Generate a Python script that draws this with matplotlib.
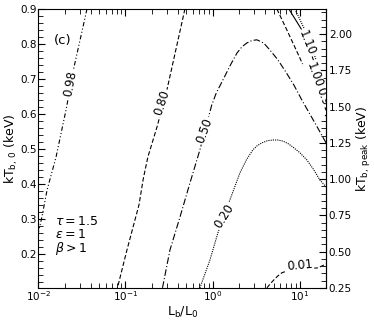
import matplotlib
matplotlib.use('Agg')
import matplotlib.pyplot as plt
from matplotlib.ticker import MultipleLocator, FormatStrFormatter

# contour lines: L_b/L_0 (x) and kT_b,0 in keV (y)
x_098 = [0.0362, 0.0257, 0.0208, 0.0160, 0.0126, 0.0110, 0.0100]
y_098 = [0.900, 0.7345, 0.612, 0.478, 0.383, 0.306, 0.261]

x_080 = [0.481, 0.299, 0.230, 0.181, 0.160, 0.143, 0.104, 0.0809]
y_080 = [0.900, 0.669, 0.563, 0.478, 0.415, 0.341, 0.212, 0.1037]

x_050 = [0.266, 0.324, 0.422, 0.549, 0.715, 0.849, 0.975, 1.10, 1.31, 1.60, 1.90, 2.17,
         2.47, 2.82, 3.22, 3.85, 4.54, 5.60, 6.93, 8.60, 10.57, 14.9, 20.0]
y_050 = [0.104, 0.212, 0.306, 0.403, 0.498, 0.569, 0.625, 0.660, 0.697, 0.740, 0.774, 0.792,
         0.803, 0.810, 0.812, 0.803, 0.783, 0.755, 0.720, 0.682, 0.640, 0.575, 0.518]

x_020 = [0.715, 0.933, 1.150, 1.579, 2.056, 2.45, 2.90, 3.25, 3.68, 4.25, 4.92, 5.60,
         6.40, 7.30, 8.34, 10.0, 12.06, 14.3, 17.0, 20.0]
y_020 = [0.104, 0.184, 0.261, 0.355, 0.432, 0.470, 0.498, 0.510, 0.518, 0.524, 0.526, 0.526,
         0.523, 0.516, 0.506, 0.490, 0.469, 0.443, 0.412, 0.392]

x_001 = [4.20, 4.60, 5.05, 5.60, 6.23, 7.10, 8.12, 11.44, 16.13, 20.0]
y_001 = [0.104, 0.116, 0.127, 0.138, 0.147, 0.152, 0.155, 0.158, 0.161, 0.172]

x_099 = [5.463, 7.30, 10.03, 13.77, 17.0, 20.0]
y_099 = [0.900, 0.834, 0.760, 0.683, 0.632, 0.592]

x_110 = [7.50, 10.57, 13.06, 15.70, 18.41, 20.0]
y_110 = [0.900, 0.840, 0.783, 0.726, 0.675, 0.649]

x_100 = [8.785, 11.14, 13.77, 16.56, 20.0]
y_100 = [0.900, 0.846, 0.789, 0.732, 0.675]

# inline labels: text, x, y, angle
labels = [('0.98', 0.0231, 0.687, 79),
          ('0.80', 0.2587, 0.632, 72),
          ('0.50', 0.8054, 0.553, 70),
          ('0.20', 1.366, 0.308, 58),
          ('0.01', 9.95, 0.167, 5),
          ('1.10', 12.06, 0.803, -68),
          ('1.00', 14.6, 0.711, -70),
          ('0.99', 18.9, 0.640, -70)]

K = 2.414  # kT_b,peak / kT_b,0

fig = plt.figure(figsize=(3.74, 3.21), dpi=100)
ax = fig.add_axes([0.1024, 0.1028, 0.7693, 0.8692])

lw = 0.8
ax.plot(x_098, y_098, c='k', lw=lw, ls=(0, (4, 2, 1, 2, 1, 2)))
ax.plot(x_080, y_080, c='k', lw=lw, ls=(0, (4, 2)))
ax.plot(x_050, y_050, c='k', lw=lw, ls=(0, (6, 2, 1, 2)))
ax.plot(x_020, y_020, c='k', lw=lw, ls=(0, (1, 1)))
ax.plot(x_001, y_001, c='k', lw=lw, ls=(0, (4, 2)))
ax.plot(x_099, y_099, c='k', lw=lw, ls=(0, (4, 2)))
ax.plot(x_110, y_110, c='k', lw=lw, ls='-')
ax.plot(x_100, y_100, c='k', lw=lw, ls=(0, (1, 1)))

for s, lx, ly, rot in labels:
    ax.text(lx, ly, s, rotation=rot, rotation_mode='anchor', ha='center', va='center',
            fontsize=8.5, clip_on=True,
            bbox=dict(boxstyle='square,pad=0.12', fc='white', ec='none'))

ax.set_xscale('log')
ax.set_xlim(0.01, 20)
ax.set_ylim(0.25 / K, 0.9)
ax.yaxis.set_major_locator(MultipleLocator(0.1))
ax.yaxis.set_minor_locator(MultipleLocator(0.02))
ax.yaxis.set_major_formatter(FormatStrFormatter('%.1f'))
ax.tick_params(which='both', direction='in', top=True, right=False, labelsize=7.5, pad=1.2)
ax.tick_params(which='major', length=4.8)
ax.tick_params(which='minor', length=3.5)

sec = ax.secondary_yaxis('right', functions=(lambda v: v * K, lambda v: v / K))
sec.yaxis.set_major_locator(MultipleLocator(0.25))
sec.yaxis.set_minor_locator(MultipleLocator(0.05))
sec.yaxis.set_major_formatter(FormatStrFormatter('%.2f'))
sec.tick_params(which='both', direction='in', labelsize=7.5, pad=2)
sec.tick_params(which='major', length=4.8)
sec.tick_params(which='minor', length=3.5)
sec.set_ylabel(r'kT$_{\rm b,\,peak}$ (keV)', fontsize=9, labelpad=2)

ax.set_xlabel(r'L$_{\rm b}$/L$_0$', fontsize=9, labelpad=1)
ax.set_ylabel(r'kT$_{\rm b,\,0}$ (keV)', fontsize=9, labelpad=0)

ax.text(0.086, 0.888, '(c)', transform=ax.transAxes, fontsize=9.5, ha='center', va='center')
ax.text(0.058, 0.240, r'$\tau = 1.5$', transform=ax.transAxes, fontsize=9, ha='left', va='center')
ax.text(0.058, 0.190, r'$\epsilon = 1$', transform=ax.transAxes, fontsize=9, ha='left', va='center')
ax.text(0.058, 0.140, r'$\beta > 1$', transform=ax.transAxes, fontsize=9, ha='left', va='center')

fig.savefig('out.png', dpi=100)
